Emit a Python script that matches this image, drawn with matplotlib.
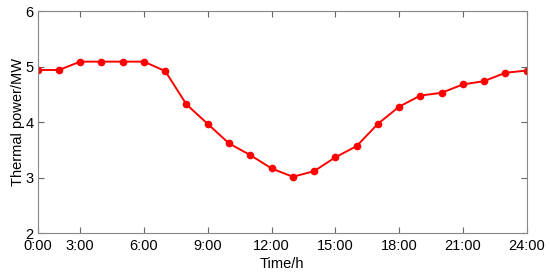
import numpy as np
import matplotlib.pyplot as plt

plt.rcParams['font.family'] = ['Liberation Sans', 'DejaVu Sans']

# 数据
hours = list(range(1, 25))
power = [4.94, 4.94, 5.09, 5.09, 5.09, 5.09, 4.92, 4.32, 3.97, 3.62, 3.41, 3.17,
         3.02, 3.12, 3.37, 3.57, 3.97, 4.28, 4.48, 4.53, 4.68, 4.74, 4.89, 4.93]
tick_pos = [1, 3, 6, 9, 12, 15, 18, 21, 24]
tick_labels = ['0:00', '3:00', '6:00', '9:00', '12:00', '15:00', '18:00', '21:00', '24:00']

fig = plt.figure(figsize=(5.5, 2.76), dpi=100)
ax = fig.add_axes([0.0685, 0.154, 0.889, 0.806])

ax.plot(hours, power, color='red', linewidth=1.4, marker='o', markersize=4.5)

ax.set_xlim(1, 24)
ax.set_ylim(2, 6)
ax.set_xticks(tick_pos)
ax.set_xticklabels(tick_labels)
ax.set_yticks([2, 3, 4, 5, 6])
ax.tick_params(direction='in', top=True, right=True, labelsize=10.5,
               color='#666666', length=4)
ax.tick_params(axis='x', pad=4)
ax.tick_params(axis='y', pad=3)
for s in ax.spines.values():
    s.set_color('#888888')

ax.set_xlabel('Time/h', fontsize=10.5, labelpad=3)
ax.set_ylabel('Thermal power/MW', fontsize=10.5, labelpad=0)

plt.savefig('out.png', dpi=100)
